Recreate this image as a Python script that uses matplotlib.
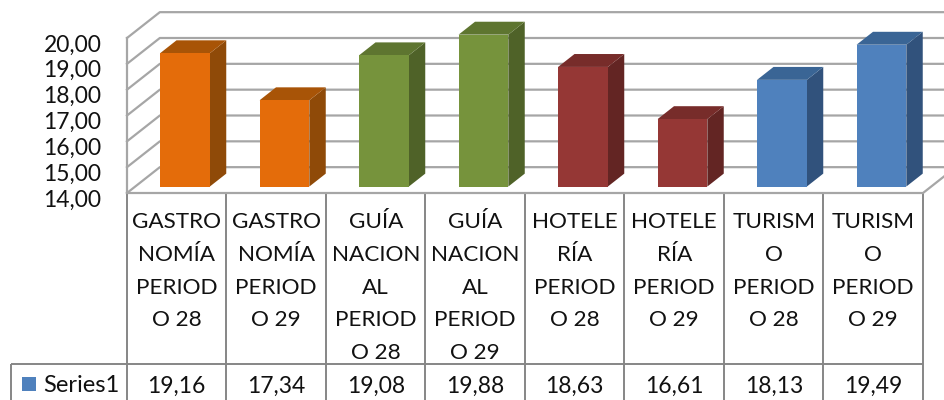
#!/usr/bin/env python
import numpy as np
import matplotlib
matplotlib.use("Agg")
import matplotlib.pyplot as plt
from matplotlib.patches import Polygon
from matplotlib.transforms import ScaledTranslation

# Chart values
categories = [
	"GASTRO\nNOMÍA\nPERIOD\nO 28",
	"GASTRO\nNOMÍA\nPERIOD\nO 29",
	"GUÍA\nNACION\nAL\nPERIOD\nO 28",
	"GUÍA\nNACION\nAL\nPERIOD\nO 29",
	"HOTELE\nRÍA\nPERIOD\nO 28",
	"HOTELE\nRÍA\nPERIOD\nO 29",
	"TURISM\nO\nPERIOD\nO 28",
	"TURISM\nO\nPERIOD\nO 29",
]
values = [19.16, 17.34, 19.08, 19.88, 18.63, 16.61, 18.13, 19.49]
value_labels = ["19,16", "17,34", "19,08", "19,88", "18,63", "16,61", "18,13", "19,49"]
y_ticks = [14, 15, 16, 17, 18, 19, 20]
series_name = "Series1"

# front, top and side colour of each bar
front_colors = ["#E46C0A", "#E46C0A", "#76933C", "#76933C", "#953735", "#953735", "#4F81BD", "#4F81BD"]
top_colors = ["#A85407", "#A85407", "#5E7530", "#5E7530", "#772C2A", "#772C2A", "#3A6595", "#3A6595"]
side_colors = ["#8F4A08", "#8F4A08", "#4F6228", "#4F6228", "#632523", "#632523", "#31527C", "#31527C"]

GRID = "#A6A6A6"
TABLE = "#868686"
FONT = "Lato"

# Depth of the box in data units : one value step up, a third of a category across
DX, DY = 0.33, 1.0


def project(x, y, d):
	return (x + DX * d, y + DY * d)


def px_y(p):
	# data value for a pixel row of the image, for the table below the plot
	return 14 - (p - 193) / (155 / 6)


def px_x(p):
	return (p - 127) / 99.5


fig = plt.figure(figsize=(9.45, 4), dpi=100)
ax0 = fig.add_axes([127 / 945, 1 - 193 / 400, 796 / 945, 155 / 400])
ax0.set_xlim(0, len(values))
ax0.set_ylim(14, 20)
for s in ax0.spines.values():
	s.set_visible(False)
ax0.patch.set_visible(False)
ax0.set_xticks([])
ax0.set_yticks(y_ticks)
ax0.set_yticklabels(["%d,00" % t for t in y_ticks], fontsize=16.5, family=FONT, color="#111111")
ax0.tick_params(axis="y", length=0, pad=18.5)
for lab in ax0.get_yticklabels():
	lab.set_transform(lab.get_transform() + ScaledTranslation(0, -5 / 100, fig.dpi_scale_trans))

# Walls and gridlines
n = len(values)
far = n + 1
for t in y_ticks:
	x0, y0 = project(0, t, 0)
	x1, y1 = project(0, t, 1)
	ax0.plot([x0, x1, far], [y0, y1, y1], color=GRID, lw=1.6, clip_on=False, zorder=1)
ax0.plot([0, 0], [14, 20], color=GRID, lw=1.6, clip_on=False, zorder=1)
ax0.plot([0, n, n + DX], [14, 14, 14 + DY], color=GRID, lw=1.6, clip_on=False, zorder=4)

# Bars
width = 0.5
for i, v in enumerate(values):
	xa, xb = i + 0.25, i + 0.25 + width
	f = [project(xa, 14, 0.25), project(xb, 14, 0.25), project(xb, v, 0.25), project(xa, v, 0.25)]
	t = [project(xa, v, 0.25), project(xb, v, 0.25), project(xb, v, 0.75), project(xa, v, 0.75)]
	s = [project(xb, 14, 0.25), project(xb, 14, 0.75), project(xb, v, 0.75), project(xb, v, 0.25)]
	ax0.add_patch(Polygon(s, closed=True, fc=side_colors[i], ec="none", clip_on=False, zorder=3))
	ax0.add_patch(Polygon(t, closed=True, fc=top_colors[i], ec="none", clip_on=False, zorder=3))
	ax0.add_patch(Polygon(f, closed=True, fc=front_colors[i], ec="none", clip_on=False, zorder=3))

# Data table
y_head, y_rule, y_end = px_y(193), px_y(364), px_y(402)
ax0.vlines(np.arange(n + 1), y_end, y_head, color=TABLE, lw=1.4, clip_on=False)
ax0.vlines(px_x(11), y_end, y_rule, color=TABLE, lw=1.4, clip_on=False)
ax0.hlines(y_rule, px_x(11), n, color=TABLE, lw=1.4, clip_on=False)

for i, c in enumerate(categories):
	ax0.text(i + 0.5, px_y(212), c, ha="center", va="top", fontsize=16.2, family=FONT,
		color="#111111", linespacing=1.8, clip_on=False)
	ax0.text(i + 0.5, px_y(386), value_labels[i], ha="center", va="center", fontsize=16.5,
		family=FONT, color="#111111", clip_on=False)

# Legend key in the table
ax0.add_patch(Polygon(
	[(px_x(22), px_y(377)), (px_x(36), px_y(377)), (px_x(36), px_y(391)), (px_x(22), px_y(391))],
	closed=True, fc="#4F81BD", ec="none", clip_on=False))
ax0.text(px_x(43), px_y(386), series_name, ha="left", va="center", fontsize=17, family=FONT,
	color="#111111", clip_on=False)

plt.savefig("out.png", dpi=100)
